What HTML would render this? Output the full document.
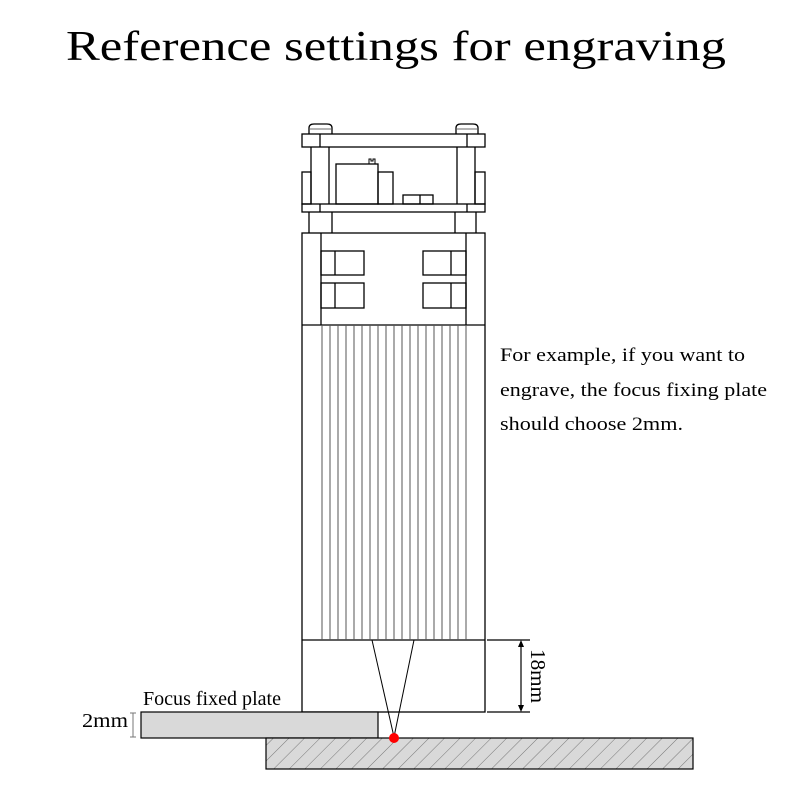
<!DOCTYPE html>
<html><head><style>
body{margin:0;background:#fff;width:800px;height:800px;overflow:hidden}
svg{display:block}
text{font-family:"Liberation Serif",serif;fill:#000}
</style></head><body>
<svg width="800" height="800" viewBox="0 0 800 800" xmlns="http://www.w3.org/2000/svg">
<defs>
<pattern id="h" patternUnits="userSpaceOnUse" width="11" height="11" patternTransform="rotate(45)">
<rect width="11" height="11" fill="#d9d9d9"/><line x1="0" y1="0" x2="0" y2="11" stroke="#777" stroke-width="1"/>
</pattern>
</defs>
<text x="66" y="60" font-size="42" textLength="660" lengthAdjust="spacingAndGlyphs">Reference settings for engraving</text>
<g fill="none" stroke="#000" stroke-width="1.3">
<path d="M309 134 v-6 q0-4 5-4 h13 q5 0 5 4 v6"/>
<path d="M456 134 v-6 q0-4 5-4 h12 q5 0 5 4 v6"/>
<line x1="310" y1="129" x2="331" y2="129" stroke="#888"/>
<line x1="457" y1="129" x2="477" y2="129" stroke="#888"/>
<rect x="302" y="134" width="183" height="13"/>
<line x1="320" y1="134" x2="320" y2="147"/><line x1="467" y1="134" x2="467" y2="147"/>
<line x1="311" y1="147" x2="311" y2="204"/><line x1="329" y1="147" x2="329" y2="204"/>
<line x1="457" y1="147" x2="457" y2="204"/><line x1="475" y1="147" x2="475" y2="204"/>
<rect x="302" y="172" width="9" height="32"/><rect x="475" y="172" width="10" height="32"/>
<rect x="336" y="164" width="42" height="40"/>
<rect x="378" y="172" width="15" height="32"/>
<rect x="403" y="195" width="30" height="9"/><line x1="420" y1="195" x2="420" y2="204"/>
<path d="M369 164 v-5 h2 v2 h2 v-2 h2 v5" stroke-width="1"/>
<rect x="302" y="204" width="183" height="8"/>
<line x1="320" y1="204" x2="320" y2="212"/><line x1="467" y1="204" x2="467" y2="212"/>
<line x1="309" y1="212" x2="309" y2="233"/><line x1="332" y1="212" x2="332" y2="233"/>
<line x1="455" y1="212" x2="455" y2="233"/><line x1="476" y1="212" x2="476" y2="233"/>
<rect x="302" y="233" width="183" height="479"/>
<line x1="321" y1="233" x2="321" y2="325"/><line x1="466" y1="233" x2="466" y2="325"/>
<line x1="302" y1="325" x2="485" y2="325"/>
<rect x="321" y="251" width="43" height="24"/><line x1="335" y1="251" x2="335" y2="275"/>
<rect x="321" y="283" width="43" height="25"/><line x1="335" y1="283" x2="335" y2="308"/>
<rect x="423" y="251" width="43" height="24"/><line x1="451" y1="251" x2="451" y2="275"/>
<rect x="423" y="283" width="43" height="25"/><line x1="451" y1="283" x2="451" y2="308"/>
<line x1="302" y1="640" x2="485" y2="640"/>
</g>
<g stroke="#555" stroke-width="1">
<line x1="322" y1="325" x2="322" y2="640"/><line x1="330" y1="325" x2="330" y2="640"/>
<line x1="338" y1="325" x2="338" y2="640"/><line x1="346" y1="325" x2="346" y2="640"/>
<line x1="354" y1="325" x2="354" y2="640"/><line x1="362" y1="325" x2="362" y2="640"/>
<line x1="370" y1="325" x2="370" y2="640"/><line x1="378" y1="325" x2="378" y2="640"/>
<line x1="386" y1="325" x2="386" y2="640"/><line x1="394" y1="325" x2="394" y2="640"/>
<line x1="402" y1="325" x2="402" y2="640"/><line x1="410" y1="325" x2="410" y2="640"/>
<line x1="418" y1="325" x2="418" y2="640"/><line x1="426" y1="325" x2="426" y2="640"/>
<line x1="434" y1="325" x2="434" y2="640"/><line x1="442" y1="325" x2="442" y2="640"/>
<line x1="450" y1="325" x2="450" y2="640"/><line x1="458" y1="325" x2="458" y2="640"/>
<line x1="466" y1="325" x2="466" y2="640"/>
</g>
<g stroke="#000" stroke-width="1" fill="none">
<line x1="372" y1="640" x2="394" y2="737"/><line x1="414" y1="640" x2="394" y2="737"/>
</g>
<rect x="141" y="712" width="237" height="26" fill="#d9d9d9" stroke="#000" stroke-width="1.2"/>
<rect x="266" y="738" width="427" height="31" fill="url(#h)" stroke="#000" stroke-width="1.2"/>
<circle cx="394" cy="738" r="5" fill="#f00"/>
<g stroke="#000" stroke-width="1.2">
<line x1="487" y1="640" x2="530" y2="640"/><line x1="487" y1="712" x2="530" y2="712"/>
<line x1="521" y1="643" x2="521" y2="709"/>
</g>
<path d="M521 640 l-3 7 h6z M521 712 l-3 -7 h6z" fill="#000"/>
<g stroke="#777" stroke-width="1"><line x1="133" y1="713" x2="133" y2="737"/><line x1="130" y1="713" x2="136" y2="713"/><line x1="130" y1="737" x2="136" y2="737"/></g>
<text x="0" y="0" font-size="21" textLength="54" lengthAdjust="spacingAndGlyphs" transform="translate(531,649) rotate(90)">18mm</text>
<text x="82" y="727" font-size="20" textLength="46" lengthAdjust="spacingAndGlyphs">2mm</text>
<text x="143" y="705" font-size="20" textLength="138" lengthAdjust="spacingAndGlyphs">Focus fixed plate</text>
<text x="500" y="361" font-size="19" textLength="245" lengthAdjust="spacingAndGlyphs">For example, if you want to</text>
<text x="500" y="396" font-size="19" textLength="267" lengthAdjust="spacingAndGlyphs">engrave, the focus fixing plate</text>
<text x="500" y="430" font-size="19" textLength="183" lengthAdjust="spacingAndGlyphs">should choose 2mm.</text>
</svg>
</body></html>
